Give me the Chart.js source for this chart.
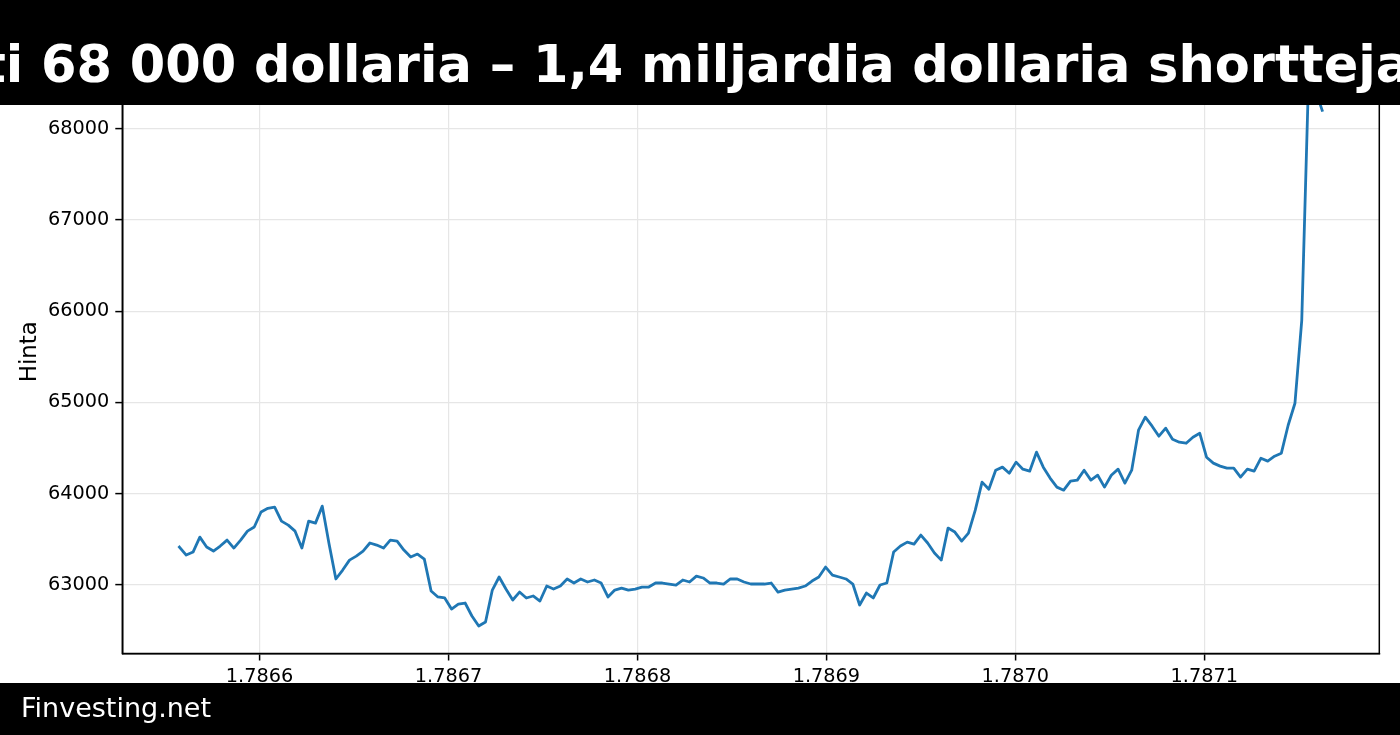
<!DOCTYPE html>
<html>
<head>
<meta charset="utf-8">
<script src="https://cdn.jsdelivr.net/npm/chart.js@4/dist/chart.umd.min.js"></script>
<style>
html,body{margin:0;padding:0;background:#fff;}
#wrap{width:1400px;height:735px;position:relative;}
</style>
</head>
<body>
<div id="wrap"><canvas id="c" width="1400" height="735"></canvas></div>
<script>
// ---- data ----
const startTime = 1786557600;   // first timestamp (s)
const stepSeconds = 3600;       // hourly samples
const prices = [
  63416, 63328, 63361, 63525, 63416, 63372, 63427, 63492, 63405, 63492,
  63590, 63635, 63800, 63840, 63853, 63700, 63656, 63590, 63405, 63700,
  63678, 63864, 63450, 63066, 63164, 63273, 63317, 63372, 63460, 63438,
  63405, 63492, 63481, 63383, 63306, 63339, 63284, 62934, 62869, 62858,
  62737, 62792, 62803, 62661, 62551, 62595, 62945, 63088, 62956, 62836,
  62923, 62858, 62880, 62825, 62989, 62956, 62989, 63066, 63022, 63066,
  63033, 63055, 63022, 62869, 62945, 62967, 62945, 62956, 62978, 62978,
  63022, 63022, 63011, 63000, 63055, 63033, 63098, 63077, 63022, 63022,
  63011, 63066, 63066, 63033, 63011, 63011, 63011, 63022, 62923, 62945,
  62956, 62967, 62989, 63044, 63088, 63197, 63109, 63088, 63066, 63011,
  62781, 62912, 62858, 63000, 63022, 63361, 63427, 63470, 63449, 63547,
  63460, 63350, 63273, 63624, 63580, 63481, 63569, 63820, 64127, 64050,
  64258, 64291, 64225, 64346, 64269, 64247, 64455, 64291, 64171, 64072,
  64039, 64138, 64149, 64258, 64149, 64203, 64072, 64203, 64269, 64116,
  64258, 64696, 64838, 64740, 64630, 64718, 64597, 64564, 64553, 64619,
  64663, 64400, 64335, 64302, 64280, 64280, 64182, 64269, 64247, 64389,
  64357, 64411, 64444, 64750, 64991, 65899, 68550, 68420, 68200
];
const xTicks = [1786600000, 1786700000, 1786800000, 1786900000, 1787000000, 1787100000];
const yTicks = [63000, 64000, 65000, 66000, 67000, 68000];
const yLabel = "Hinta";
const titleText = "ti 68 000 dollaria – 1,4 miljardia dollaria shortteja";
const footerText = "Finvesting.net";

// ---- build ----
const points = prices.map((p, i) => ({ x: startTime + i * stepSeconds, y: p }));
const firstX = points[0].x, lastX = points[points.length - 1].x;
const xMargin = (lastX - firstX) * 0.05;

Chart.defaults.font.family = "'DejaVu Sans', sans-serif";
Chart.defaults.color = '#000';

const framePlugin = {
  id: 'frame',
  afterDatasetsDraw(chart) {
    const a = chart.chartArea, ctx = chart.ctx;
    ctx.save();
    ctx.strokeStyle = '#000';
    ctx.lineWidth = 1.5;
    ctx.strokeRect(a.left, a.top, a.right - a.left, a.bottom - a.top);
    ctx.restore();
  }
};

const bandsPlugin = {
  id: 'bands',
  afterDraw(chart) {
    const ctx = chart.ctx;
    ctx.save();
    ctx.fillStyle = '#000';
    ctx.fillRect(0, 0, 1400, 105);
    ctx.fillRect(0, 683, 1400, 52);
    ctx.fillStyle = '#fff';
    ctx.textBaseline = 'alphabetic';
    ctx.textAlign = 'left';
    ctx.font = "bold 51px 'DejaVu Sans'";
    const lead = ctx.measureText('ti ').width;
    ctx.fillText(titleText, 41 - lead, 82);
    ctx.font = "27px 'DejaVu Sans'";
    ctx.fillText(footerText, 21, 717);
    ctx.restore();
  }
};

new Chart(document.getElementById('c'), {
  type: 'line',
  data: {
    datasets: [{
      data: points,
      borderColor: '#1f77b4',
      borderWidth: 2.8,
      pointRadius: 0,
      tension: 0,
      fill: false,
      borderJoinStyle: 'round',
      borderCapStyle: 'square'
    }]
  },
  options: {
    responsive: false,
    animation: false,
    events: [],
    layout: { padding: { left: 0, right: 20.7, top: 50, bottom: 41.5 } },
    plugins: { legend: { display: false }, tooltip: { enabled: false }, title: { display: false } },
    scales: {
      x: {
        type: 'linear',
        min: firstX - xMargin,
        max: lastX + xMargin,
        afterBuildTicks: s => { s.ticks = xTicks.map(v => ({ value: v })); },
        afterFit: s => { s.height = 40; },
        ticks: {
          callback: v => (v / 1e9).toFixed(4),
          font: { size: 19.3 },
          color: '#000',
          padding: 5,
          maxRotation: 0,
          autoSkip: false
        },
        grid: { color: '#e6e6e6', lineWidth: 1.2, tickColor: '#000', tickLength: 7, tickWidth: 1.5 },
        border: { display: true, color: '#000', width: 1.5 }
      },
      y: {
        type: 'linear',
        min: 62250,
        max: 68860,
        afterBuildTicks: s => { s.ticks = yTicks.map(v => ({ value: v })); },
        afterFit: s => { s.width = 122.3; },
        ticks: {
          callback: v => String(v),
          font: { size: 19.3 },
          color: '#000',
          padding: 6
        },
        grid: { color: '#e6e6e6', lineWidth: 1.2, tickColor: '#000', tickLength: 7, tickWidth: 1.5 },
        border: { display: true, color: '#000', width: 1.5 },
        title: {
          display: true,
          text: yLabel,
          font: { size: 22.8 },
          color: '#000',
          padding: { top: 16, bottom: 0 }
        }
      }
    }
  },
  plugins: [framePlugin, bandsPlugin]
});
</script>
</body>
</html>
